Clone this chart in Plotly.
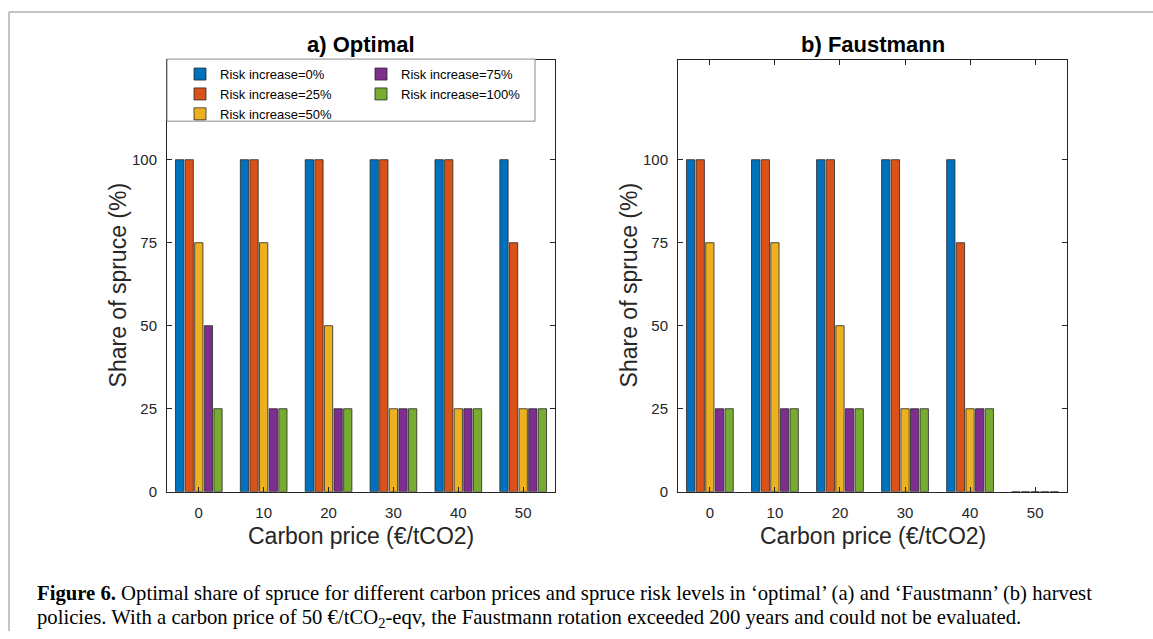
import plotly.graph_objects as go

W, H = 1153, 639
# vertical correction: the rendered page was observed to come out ~1.4% shorter
KY = 1.0142

carbon_prices = [0, 10, 20, 30, 40, 50]
risk_labels = ["Risk increase=0%", "Risk increase=25%", "Risk increase=50%",
               "Risk increase=75%", "Risk increase=100%"]
colors = ["#0072BD", "#D95319", "#EDB120", "#7E2F8E", "#77AC30"]

# a) Optimal
optimal_risk0 = [100, 100, 100, 100, 100, 100]
optimal_risk25 = [100, 100, 100, 100, 100, 75]
optimal_risk50 = [75, 75, 50, 25, 25, 25]
optimal_risk75 = [50, 25, 25, 25, 25, 25]
optimal_risk100 = [25, 25, 25, 25, 25, 25]

# b) Faustmann (50 €/tCO2 could not be evaluated -> 0)
faustmann_risk0 = [100, 100, 100, 100, 100, 0]
faustmann_risk25 = [100, 100, 100, 100, 75, 0]
faustmann_risk50 = [75, 75, 50, 25, 25, 0]
faustmann_risk75 = [25, 25, 25, 25, 25, 0]
faustmann_risk100 = [25, 25, 25, 25, 25, 0]

y_ticks = [0, 25, 50, 75, 100]

optimal = [optimal_risk0, optimal_risk25, optimal_risk50, optimal_risk75, optimal_risk100]
faustmann = [faustmann_risk0, faustmann_risk25, faustmann_risk50, faustmann_risk75, faustmann_risk100]

FONT = "Liberation Sans, Arial, sans-serif"
TXT = "#262626"

fig = go.Figure()
for i in range(5):
    fig.add_trace(go.Bar(
        x=carbon_prices, y=optimal[i], name=risk_labels[i],
        marker=dict(color=colors[i], line=dict(color="#262626", width=0.8)),
        xaxis="x", yaxis="y", offsetgroup=str(i),
        legend="legend" if i < 3 else "legend2",
    ))
for i in range(5):
    fig.add_trace(go.Bar(
        x=carbon_prices, y=faustmann[i], name=risk_labels[i],
        marker=dict(color=colors[i], line=dict(color="#262626", width=0.8)),
        xaxis="x2", yaxis="y2", offsetgroup=str(i), showlegend=False,
    ))


def px_x(p):
    return p / W


def px_y(p):
    return max(0.0, 1 - p * KY / H)


axis_common = dict(
    showline=True, mirror="ticks", linecolor=TXT, linewidth=1,
    ticks="inside", ticklen=5, tickcolor=TXT, tickwidth=1,
    showgrid=False, zeroline=False,
    tickfont=dict(family=FONT, size=15, color=TXT),
)

ydom = [px_y(491), px_y(60)]

fig.update_layout(
    width=W, height=H, autosize=False,
    margin=dict(l=0, r=0, t=0, b=0),
    paper_bgcolor="white", plot_bgcolor="white",
    barmode="group", bargap=0.26, bargroupgap=0.14,
    font=dict(family=FONT, color=TXT),
    xaxis=dict(domain=[px_x(167), px_x(555)], range=[-4.9, 54.9],
               tickvals=carbon_prices, anchor="y", ticklabelstandoff=7, **axis_common),
    yaxis=dict(domain=ydom, range=[0, 130], tickvals=y_ticks, anchor="x",
               ticklabelstandoff=6, **axis_common),
    xaxis2=dict(domain=[px_x(678), px_x(1067)], range=[-4.9, 54.9],
                tickvals=carbon_prices, anchor="y2", ticklabelstandoff=7, **axis_common),
    yaxis2=dict(domain=ydom, range=[0, 130], tickvals=y_ticks, anchor="x2",
                ticklabelstandoff=6, **axis_common),
    legend=dict(x=px_x(180), y=px_y(59), xanchor="left", yanchor="top",
                bgcolor="rgba(0,0,0,0)", borderwidth=0, tracegroupgap=0,
                font=dict(family=FONT, size=13, color="black")),
    legend2=dict(x=px_x(361), y=px_y(59), xanchor="left", yanchor="top",
                 bgcolor="rgba(0,0,0,0)", borderwidth=0, tracegroupgap=0,
                 font=dict(family=FONT, size=13, color="black")),
    shapes=[
        dict(type="rect", xref="paper", yref="paper",
             x0=px_x(167), x1=px_x(535), y0=px_y(121), y1=px_y(59),
             fillcolor="white", line=dict(color="#8a8a8a", width=1), layer="above"),
        dict(type="line", xref="paper", yref="paper",
             x0=px_x(9), x1=1, y0=px_y(12), y1=px_y(12),
             line=dict(color="#c4c4c4", width=2)),
        dict(type="line", xref="paper", yref="paper",
             x0=px_x(9), x1=px_x(9), y0=0, y1=px_y(12),
             line=dict(color="#c4c4c4", width=2)),
    ],
)

ann = []
for cx, title in [(361, "<b>a) Optimal</b>"), (872.5, "<b>b) Faustmann</b>")]:
    ann.append(dict(text=title, x=px_x(cx), y=px_y(44), xref="paper", yref="paper",
                    xanchor="center", yanchor="middle", showarrow=False,
                    font=dict(family=FONT, size=22, color="black")))
    ann.append(dict(text="Carbon price (€/tCO2)", x=px_x(cx), y=px_y(535), xref="paper",
                    yref="paper", xanchor="center", yanchor="middle", showarrow=False,
                    font=dict(family=FONT, size=23, color=TXT)))
for cx in [118, 629]:
    ann.append(dict(text="Share of spruce (%)", x=px_x(cx), y=px_y(285), xref="paper",
                    yref="paper", xanchor="center", yanchor="middle", showarrow=False,
                    textangle=-90, font=dict(family=FONT, size=23, color=TXT)))

CAP = "Liberation Serif, Times New Roman, serif"
ann.append(dict(text="<b>Figure 6.</b> Optimal share of spruce for different carbon prices and spruce risk "
                     "levels in ‘optimal’ (a) and ‘Faustmann’ (b) harvest",
                x=px_x(35), y=px_y(593), xref="paper", yref="paper", xanchor="left",
                yanchor="middle", showarrow=False, font=dict(family=CAP, size=20.7, color="black")))
ann.append(dict(text="policies. With a carbon price of 50 €/tCO<sub>2</sub>-eqv, the Faustmann rotation "
                     "exceeded 200 years and could not be evaluated.",
                x=px_x(35), y=px_y(618), xref="paper", yref="paper", xanchor="left",
                yanchor="middle", showarrow=False, font=dict(family=CAP, size=20.7, color="black")))
fig.update_layout(annotations=ann)

# remove the default page margin so the 1153x639 figure fills the window exactly
fig.write_html("out.html", config={"displayModeBar": False},
               post_script="document.body.style.margin='0';")
